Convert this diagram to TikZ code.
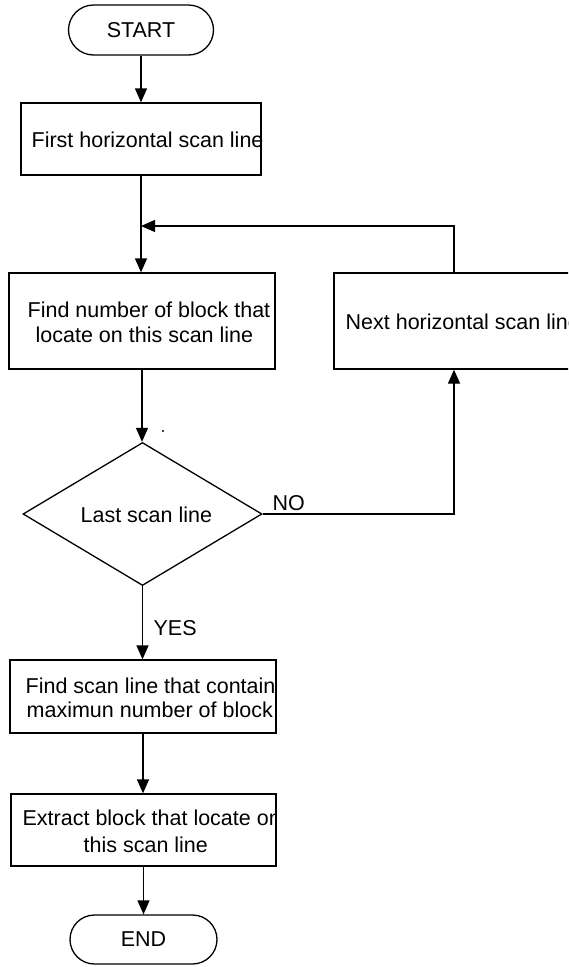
\documentclass[tikz,border=0pt]{standalone}
\usepackage{fontspec}
\setmainfont{Liberation Sans}
\usetikzlibrary{arrows.meta,shapes.geometric,shapes.misc}
\begin{document}
\begin{tikzpicture}[x=1pt,y=-1pt,
  line width=1.3pt,
  every node/.style={font=\fontsize{21.5}{25}\selectfont},
  box/.style={draw,rectangle,inner sep=0pt},
  term/.style={draw,rounded rectangle,inner sep=0pt,minimum height=50pt},
  decision/.style={draw,diamond,inner sep=0pt,minimum width=239pt,minimum height=143pt},
  txt/.style={anchor=base west,inner sep=0pt},
  flow/.style={-{Triangle[length=14pt,width=12pt]}}]

% page and white background
\fill[white] (0,0) rectangle (568,967);
\useasboundingbox (0,0) rectangle (568,967);
\clip (0,0) rectangle (568,967);

% terminals
\node[term,minimum width=145pt] (start) at (141,30) {START};
\node[term,minimum width=147pt,minimum height=49pt] (end) at (143.5,939.5) {END};

% process boxes
\node[box,minimum width=240pt,minimum height=72pt] (b1) at (141,139) {};
\node[box,minimum width=266pt,minimum height=96pt] (b2) at (142,321) {};
\node[box,minimum width=240pt,minimum height=96pt] (next) at (454,321) {};
\node[box,minimum width=266pt,minimum height=73pt] (b3) at (143,696.5) {};
\node[box,minimum width=265pt,minimum height=72pt] (b4) at (143.5,830) {};

% decision
\node[decision] (dia) at (142.5,514) {};

% box texts
\node[txt] (t1) at (31,147) {First horizontal scan line};
\node[txt] (t2a) at (27,317) {Find number of block that};
\node[txt] (t2b) at (35,342) {locate on this scan line};
\node[txt] (tn) at (345,329) {Next horizontal scan line};
\node[txt] (td) at (80,522) {Last scan line};
\begin{scope}
  \clip (b3.north west) rectangle (b3.south east);
  \node[txt] (t3a) at (25,693) {Find scan line that contain};
  \node[txt] (t3b) at (26,717) {maximun number of block};
\end{scope}
\begin{scope}
  \clip (b4.north west) rectangle (b4.south east);
  \node[txt] (t4a) at (22,825) {Extract block that locate on};
  \node[txt] (t4b) at (83,852) {this scan line};
\end{scope}

% branch labels
\node[txt] (no) at (272,510) {NO};
\node[txt] (yes) at (153,635) {YES};

% connectors
\coordinate (j) at (b1.south |- 0,226);
\draw[flow] (start.south) -- (start.south |- b1.north);
\draw[flow] (b1.south) -- (b1.south |- b2.north);
\draw[flow] (b2.south) -- (b2.south |- dia.north);
\draw[flow] (dia.east) -| (next.south);
\draw[flow] (next.north) |- (j);
\draw[flow] (dia.south) -- (dia.south |- b3.north);
\draw[flow] (b3.south) -- (b3.south |- b4.north);
\draw[flow] (b4.south) -- (b4.south |- end.north);

% small speck beside the decision entry
\fill (163,431) circle (1.1pt);
\end{tikzpicture}
\end{document}
